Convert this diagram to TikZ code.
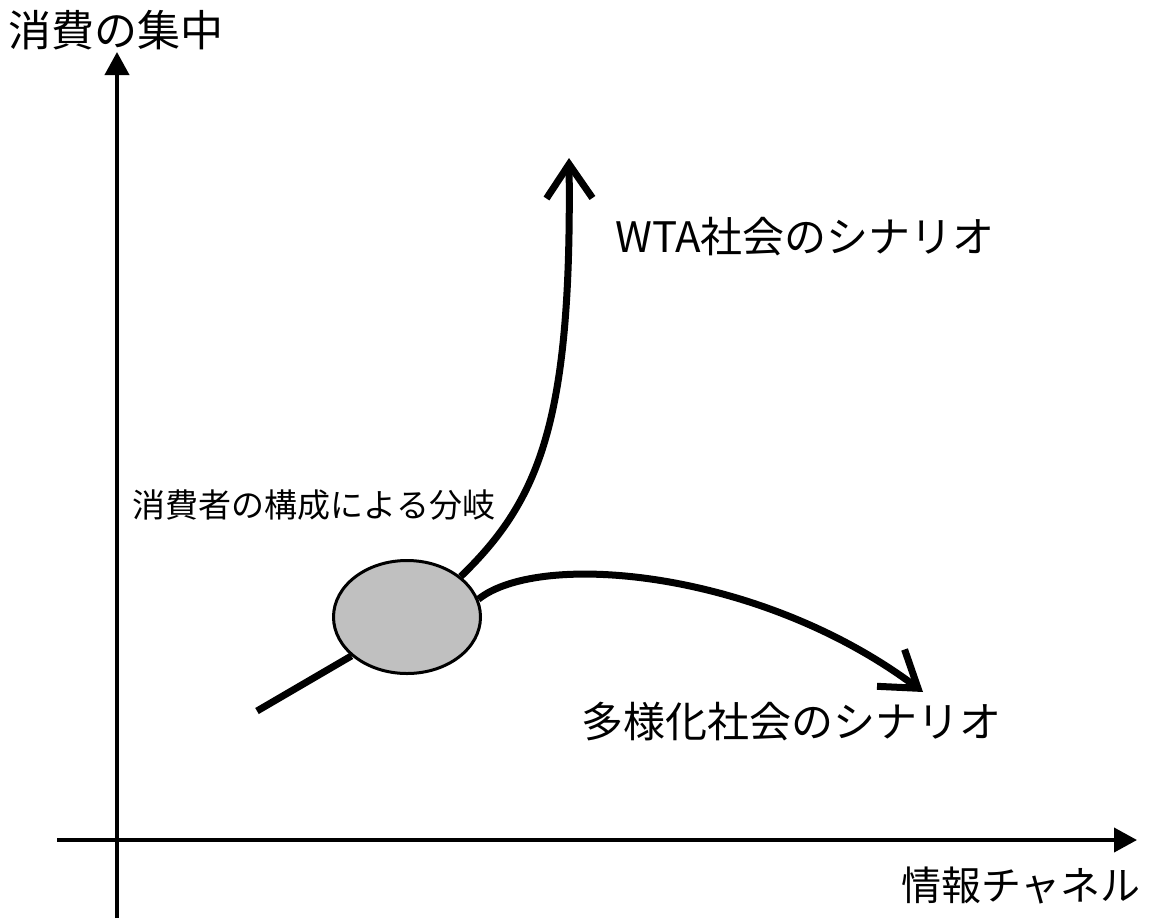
\documentclass[tikz,border=0pt]{standalone}
\usepackage{fontspec}
\usetikzlibrary{arrows.meta,shapes.geometric}
\newfontfamily\jp{Noto Sans CJK JP}
\begin{document}
\begin{tikzpicture}[x=1pt,y=-1pt,
  axis/.style={line width=4pt,-{Triangle[length=23pt,width=24pt]}},
  path/.style={line width=7pt,-{Straight Barb[length=34pt,width=46pt]}},
  lbl/.style={inner sep=0pt,font=\jp\fontsize{#1}{#1}\selectfont},
  lbl/.default=42]
\useasboundingbox (0,0) rectangle (1158,918);
\coordinate (yb) at (117,918);
\coordinate (yt) at (117,52);
\coordinate (xl) at (57,840);
\coordinate (xr) at (1137,840);
\draw[axis] (yb) -- (yt);
\draw[axis] (xl) -- (xr);
\node[ellipse,draw,line width=3pt,fill={rgb,255:red,192;green,192;blue,192},minimum width=147pt,minimum height=113pt,inner sep=0pt] (e) at (407,617) {};
\coordinate (s) at (257,711);
\coordinate (t1) at (569,158);
\coordinate (t2) at (923,692);
\draw[line width=7pt] (s) -- (e.215);
\draw[path] (e.37) .. controls (540,500) and (572,420) .. (t1);
\draw[path] (e.14) .. controls (540,550) and (760,570) .. (t2);
\node[lbl=43] (ly) at (116,30) {消費の集中};
\node[lbl=40] (lx) at (1021,885) {情報チャネル};
\node[lbl=42] (lw) at (805,237) {WTA社会のシナリオ};
\node[lbl=42] (ld) at (791,722) {多様化社会のシナリオ};
\node[lbl=33] (lb) at (314,505) {消費者の構成による分岐};
\end{tikzpicture}
\end{document}
